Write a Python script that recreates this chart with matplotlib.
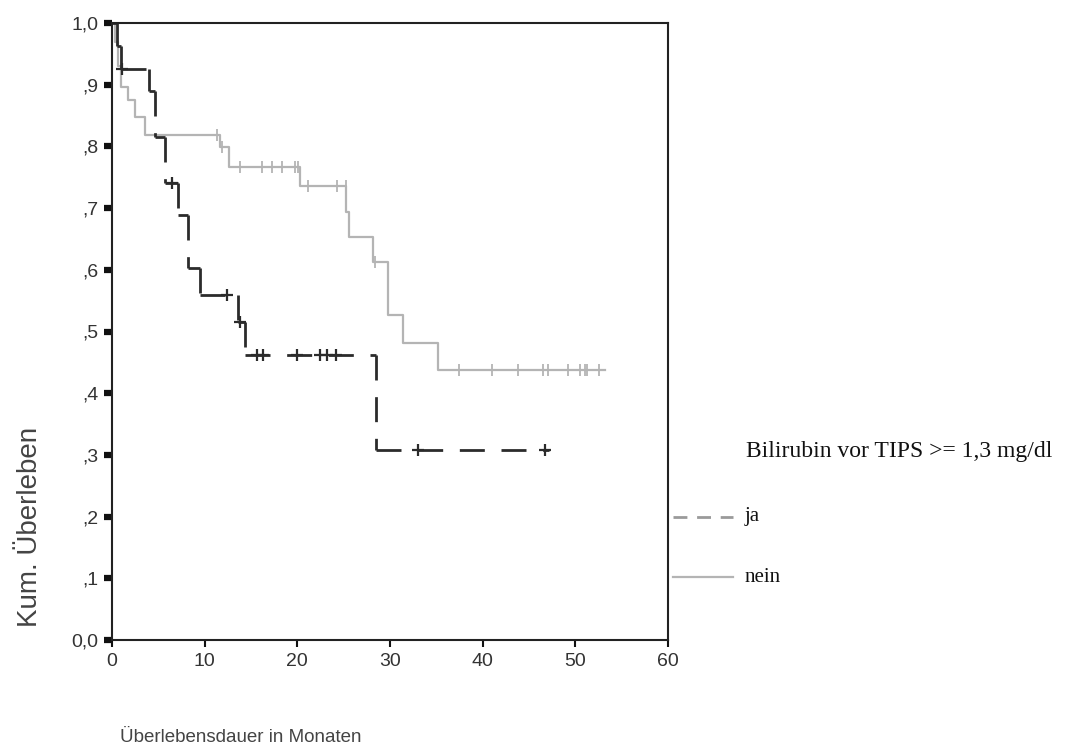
import numpy as np
import matplotlib
matplotlib.use("Agg")
import matplotlib.pyplot as plt
from matplotlib.lines import Line2D

# ---------------- Daten ----------------
# Gruppe "ja": Bilirubin vor TIPS >= 1,3 mg/dl
ja_t = [0, 0.5, 1.0, 4.0, 4.6, 5.7, 7.1, 8.2, 9.5, 13.6, 14.3, 28.5, 47.2]
ja_s = [1.0, 0.963, 0.926, 0.889, 0.815, 0.741, 0.689, 0.603, 0.559, 0.515, 0.462, 0.308, 0.308]
ja_censor = [1.1, 6.5, 12.4, 13.8, 15.7, 16.3, 20.0, 22.4, 23.2, 24.2, 33.0, 46.7]

# Gruppe "nein"
nein_t = [0, 0.3, 0.6, 1.0, 1.7, 2.5, 3.6, 11.7, 12.6, 20.3, 25.3, 25.6, 28.2, 29.8, 31.4, 35.2, 53.2]
nein_s = [1.0, 0.97, 0.93, 0.896, 0.875, 0.848, 0.818, 0.799, 0.767, 0.736, 0.694, 0.653, 0.613,
          0.527, 0.481, 0.438, 0.438]
nein_censor = [11.3, 11.9, 13.8, 16.2, 17.3, 18.3, 19.8, 20.1, 21.1, 24.3, 25.2, 28.4,
               37.5, 41.0, 43.8, 46.5, 47.1, 49.2, 50.5, 51.0, 51.3, 52.6]

x_ticks = [0, 10, 20, 30, 40, 50, 60]
y_ticks = [0.0, 0.1, 0.2, 0.3, 0.4, 0.5, 0.6, 0.7, 0.8, 0.9, 1.0]
y_labels = ['0,0', ',1', ',2', ',3', ',4', ',5', ',6', ',7', ',8', ',9', '1,0']

legend_title = 'Bilirubin vor TIPS >= 1,3 mg/dl'
group_names = ['ja', 'nein']


def step_value(t, s, x):
    # Wert der Treppenfunktion an Stelle x
    idx = np.searchsorted(t, x, side='right') - 1
    return np.asarray(s)[idx]


fig = plt.figure(figsize=(10.69, 7.49), dpi=100)
ax = fig.add_axes([112 / 1069, 1 - 640 / 749, 556 / 1069, 617 / 749])

dark = '#2b2b2b'
light = '#b4b4b4'

# Kurven
ax.step(nein_t, nein_s, where='post', color=light, linewidth=1.6)
ax.plot(nein_censor, step_value(nein_t, nein_s, nein_censor), linestyle='none',
        marker='|', markersize=9, markeredgewidth=1.3, color=light)

# gestrichelte Treppe: jedes Teilstueck einzeln, damit das Strichmuster neu beginnt (wie SPSS)
for i in range(len(ja_t) - 1):
    ax.plot([ja_t[i], ja_t[i + 1]], [ja_s[i], ja_s[i]], color=dark, linewidth=2.0,
            dashes=(9, 6), solid_capstyle='butt')
    ax.plot([ja_t[i + 1], ja_t[i + 1]], [ja_s[i], ja_s[i + 1]], color=dark, linewidth=2.0,
            dashes=(9, 6))
ax.plot(ja_censor, step_value(ja_t, ja_s, ja_censor), linestyle='none',
        marker='+', markersize=8, markeredgewidth=1.6, color=dark)

ax.set_xlim(0, 60)
ax.set_ylim(0, 1)
ax.set_xticks(x_ticks)
ax.set_yticks(y_ticks)
ax.set_yticklabels(y_labels)

font = 'Liberation Sans'
for lab in ax.get_xticklabels() + ax.get_yticklabels():
    lab.set_fontfamily(font)
    lab.set_fontsize(14)
    lab.set_color('#333333')

ax.tick_params(axis='y', direction='out', length=6, width=4.5, pad=4, color='#111111')
ax.tick_params(axis='x', direction='out', length=5, width=1.5, pad=4, color='#111111')
for sp in ax.spines.values():
    sp.set_linewidth(1.5)
    sp.set_color('#222222')

# Achsenbeschriftungen
fig.text(30 / 1069, 1 - 527 / 749, 'Kum. Überleben', rotation=90, ha='center', va='center',
         fontsize=20, family=font, color='#444444')
fig.text(120 / 1069, 1 - 738 / 749, 'Überlebensdauer in Monaten', ha='left', va='center',
         fontsize=13.5, family=font, color='#444444')

# Legende
serif = 'Liberation Serif'
fig.text(746 / 1069, 1 - 452 / 749, legend_title, ha='left', va='center',
         fontsize=17, family=serif, color='#111111')
legend_styles = [dict(color='#9a9a9a', linewidth=2.0, dashes=(5, 3.5)),
                 dict(color=light, linewidth=1.6)]
legend_y = [517, 577]
for name, style, py in zip(group_names, legend_styles, legend_y):
    yf = 1 - py / 749
    fig.add_artist(Line2D([673 / 1069, 733 / 1069], [yf, yf], transform=fig.transFigure, **style))
    fig.text(745 / 1069, yf, name, ha='left', va='center', fontsize=15, family=serif,
             color='#111111')

fig.savefig('out.png', dpi=100)
